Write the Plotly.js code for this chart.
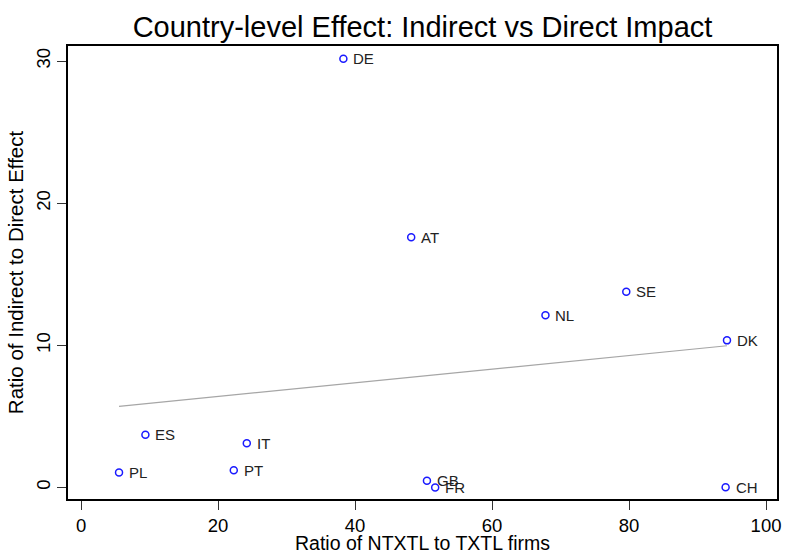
<!DOCTYPE html>
<html>
<head>
<meta charset="utf-8">
<script src="https://cdn.plot.ly/plotly-3.0.1.min.js"></script>
<style>html,body{margin:0;padding:0;background:#fff;}#chart{width:785px;height:557px;}</style>
</head>
<body>
<div id="chart"></div>
<script>
// Data
const countries = ["DE","AT","SE","NL","DK","ES","IT","PT","PL","GB","FR","CH"];
const ratioNTXTL = [38.3, 48.2, 79.6, 67.8, 94.3, 9.4, 24.2, 22.3, 5.55, 50.5, 51.7, 94.1];
const ratioIndirect = [30.16, 17.6, 13.77, 12.12, 10.35, 3.71, 3.12, 1.21, 1.05, 0.48, 0.0, 0.01];
// Fitted line endpoints
const fitX = [5.55, 94.3];
const fitY = [5.71, 9.97];
const xTicks = [0, 20, 40, 60, 80, 100];
const yTicks = [0, 10, 20, 30];

const font = "Arial, 'Liberation Sans', sans-serif";

const traces = [
  {
    x: fitX, y: fitY, type: "scatter", mode: "lines",
    line: {color: "#a6a6a6", width: 1.2},
    hoverinfo: "skip", showlegend: false
  },
  {
    x: ratioNTXTL, y: ratioIndirect,
    type: "scatter", mode: "markers",
    marker: {symbol: "circle-open", size: 7, color: "#1a1aff", line: {width: 1.5, color: "#1a1aff"}},
    showlegend: false
  }
];

const labelAnnotations = countries.map((c, i) => ({
  x: ratioNTXTL[i], y: ratioIndirect[i], xref: "x", yref: "y",
  text: c, showarrow: false, xanchor: "left", yanchor: "middle",
  xshift: 8, yshift: 0,
  font: {family: font, size: 15, color: "#222"}
}));

const xTitleAnnotation = {
  text: "Ratio of NTXTL to TXTL firms", xref: "paper", yref: "paper",
  x: 0.5, y: 0, xanchor: "center", yanchor: "top", yshift: -31,
  showarrow: false, font: {family: font, size: 19.5, color: "#000"}
};

const layout = {
  width: 785, height: 557,
  margin: {l: 68, r: 8, t: 46, b: 58},
  paper_bgcolor: "#ffffff", plot_bgcolor: "#ffffff",
  font: {family: font, color: "#000"},
  title: {text: "Country-level Effect: Indirect vs Direct Impact", font: {family: font, size: 29, color: "#000"}, xref: "paper", x: 0.5, xanchor: "center", y: 0.951, yanchor: "middle"},
  annotations: labelAnnotations.concat([xTitleAnnotation]),
  xaxis: {
    range: [-1.9, 101.6], tickvals: xTicks, ticktext: xTicks.map(String),
    showgrid: false, zeroline: false,
    showline: true, linecolor: "#000", linewidth: 1.8, mirror: true,
    ticks: "outside", ticklen: 9, tickwidth: 1, tickcolor: "#333",
    tickfont: {family: font, size: 18.5, color: "#000"}
  },
  yaxis: {
    range: [-0.81, 31.06], tickvals: yTicks, ticktext: yTicks.map(String),
    showgrid: false, zeroline: false,
    showline: true, linecolor: "#000", linewidth: 1.8, mirror: true,
    ticks: "outside", ticklen: 9, tickwidth: 1, tickcolor: "#333",
    tickangle: -90,
    tickfont: {family: font, size: 18.5, color: "#000"},
    title: {text: "Ratio of Indirect to Direct Effect", font: {family: font, size: 20.5, color: "#000"}, standoff: 4}
  }
};

Plotly.newPlot("chart", traces, layout, {displayModeBar: false, staticPlot: true});
</script>
</body>
</html>
